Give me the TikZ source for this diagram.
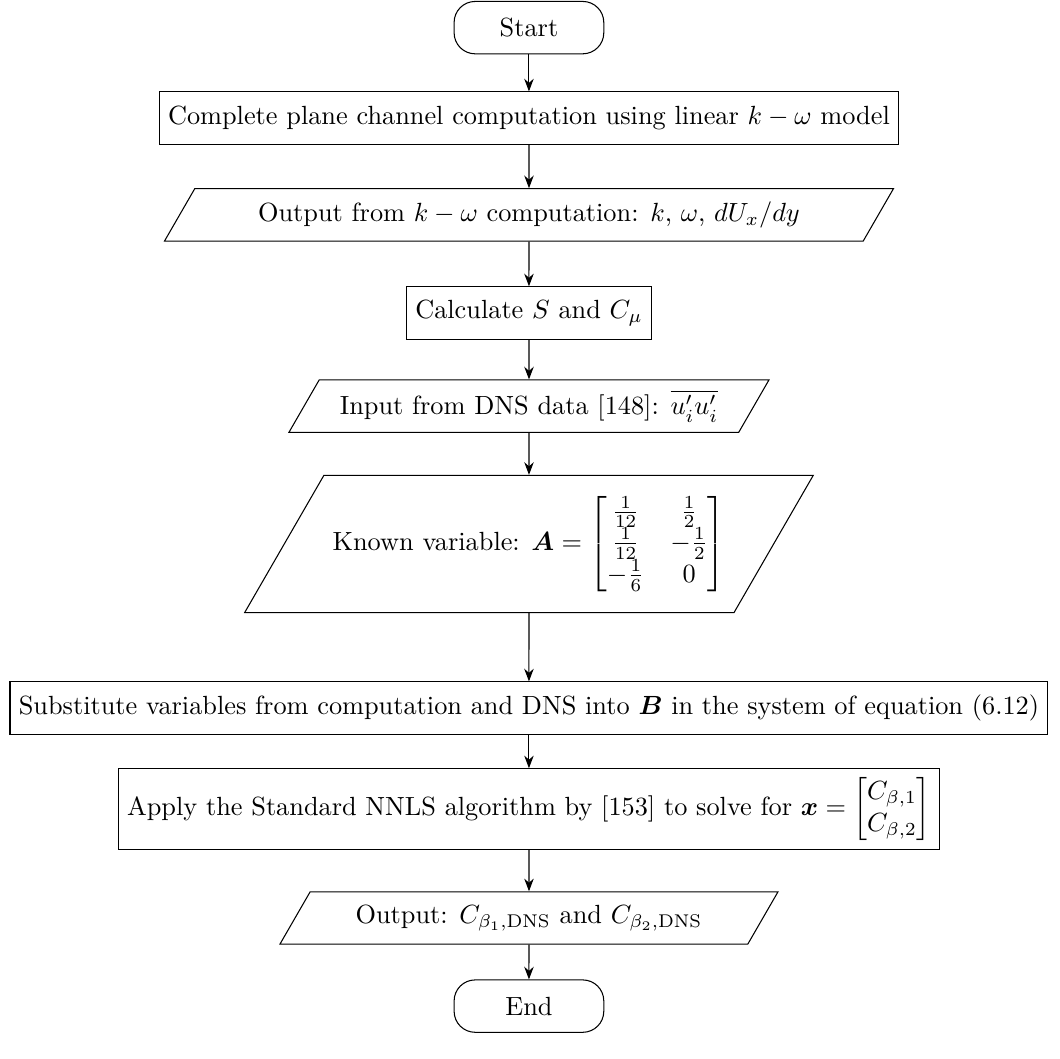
\documentclass[tikz,border=0pt]{standalone}
\usepackage{amsmath,bm}
\usetikzlibrary{shapes.geometric,arrows.meta}
\tikzset{
  startstop/.style={rectangle, rounded corners=8pt, draw, minimum width=2cm, minimum height=0.7cm, align=center},
  process/.style={rectangle, draw, minimum height=0.7cm, align=center},
  io/.style={trapezium, trapezium left angle=60, trapezium right angle=120, draw, minimum height=0.7cm, align=center},
  flow/.style={->, >=Stealth}
}
\begin{document}
\begin{tikzpicture}
\useasboundingbox (0,0) rectangle (403pt,-402.6pt);
\def\cx{201.1pt}
\node[startstop] (start) at (\cx,-10.5pt) {Start};
\node[process] (chan) at (\cx,-44.9pt) {Complete plane channel computation using linear $k-\omega$ model};
\node[io] (kwout) at (\cx,-81.7pt) {Output from $k-\omega$ computation: $k$, $\omega$, $dU_x/dy$};
\node[process] (calc) at (\cx,-119pt) {Calculate $S$ and $C_\mu$};
\node[io] (dns) at (\cx,-154.4pt) {Input from DNS data [148]: $\overline{u_i'u_i'}$};
\node[io, inner ysep=8pt] (known) at (\cx,-206.8pt) {Known variable: $\bm{A}=\begin{bmatrix}\frac{1}{12} & \frac{1}{2}\\ \frac{1}{12} & -\frac{1}{2}\\ -\frac{1}{6} & 0\end{bmatrix}$};
\node[process] (subst) at (\cx,-269.2pt) {Substitute variables from computation and DNS into $\bm{B}$ in the system of equation (6.12)};
\node[process] (nnls) at (\cx,-307.6pt) {Apply the Standard NNLS algorithm by [153] to solve for $\bm{x}=\begin{bmatrix}C_{\beta,1}\\ C_{\beta,2}\end{bmatrix}$};
\node[io] (res) at (\cx,-349pt) {Output: $C_{\beta_1,\mathrm{DNS}}$ and $C_{\beta_2,\mathrm{DNS}}$};
\node[startstop] (stop) at (\cx,-382.5pt) {End};
\draw[flow] (start) -- (chan);
\draw[flow] (chan) -- (kwout);
\draw[flow] (kwout) -- (calc);
\draw[flow] (calc) -- (dns);
\draw[flow] (dns) -- (known);
\draw[flow] (known) -- (subst);
\draw[flow] (subst) -- (nnls);
\draw[flow] (nnls) -- (res);
\draw[flow] (res) -- (stop);
\end{tikzpicture}
\end{document}
